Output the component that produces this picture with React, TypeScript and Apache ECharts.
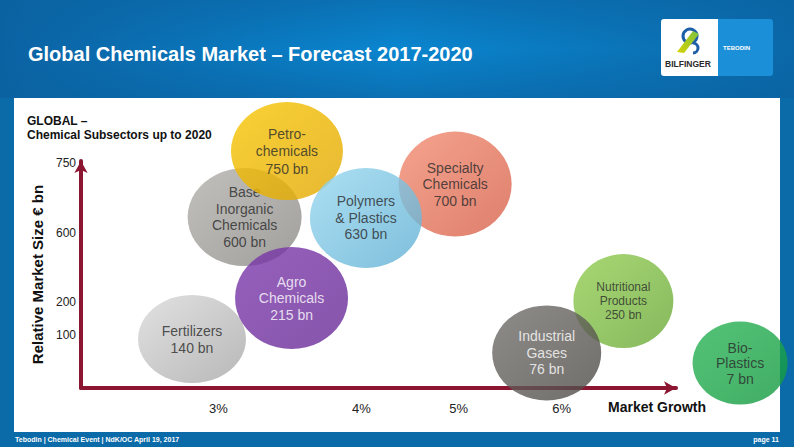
import React, { useEffect, useRef } from 'react';
import * as echarts from 'echarts';

// ---- data ----
const sectorNames = [
  'Base\nInorganic\nChemicals',
  'Petro-\nchemicals',
  'Specialty\nChemicals',
  'Polymers\n& Plastics',
  'Fertilizers',
  'Agro\nChemicals',
  'Nutritional\nProducts',
  'Industrial\nGases',
  'Bio-\nPlastics',
];
const marketSizeBn = [600, 750, 700, 630, 140, 215, 250, 76, 7];
// bubble position on the growth axis (%) and on the relative size axis
const growthPos = [3.23, 3.6, 5.07, 4.29, 2.77, 3.64, 6.54, 5.87, 7.56];
const sizePos = [570, 790, 680, 567, 163, 300, 290, 117, 83];
const xTickPos = [3, 4.25, 5.1, 6];
const xTickLabels = ['3%', '4%', '5%', '6%'];
const yTickPos = [177, 287, 517, 750];
const yTickLabels = ['100', '200', '600', '750'];

// ---- styles ----
const FONT = "'Liberation Sans', Arial, Helvetica, sans-serif";
const bubbleStyles = [
  { size: [114, 98], c1: '#b2b0ac', c2: '#8a8884', text: '#2a2a2a', fs: 14, lh: 16.5 },
  { size: [112, 98], c1: '#f7c600', c2: '#e2a600', text: '#2a2a2a', fs: 14, lh: 17.5 },
  { size: [113, 105], c1: '#f28c72', c2: '#d65f48', text: '#2a2a2a', fs: 14, lh: 16.5 },
  { size: [112, 100], c1: '#98d8f0', c2: '#5eaed2', text: '#2a2a2a', fs: 14, lh: 16.5 },
  { size: [108, 88], c1: '#dadada', c2: '#a6a6a6', text: '#2a2a2a', fs: 14, lh: 17 },
  { size: [113, 102], c1: '#7b38ab', c2: '#682a96', text: '#ffffff', fs: 14, lh: 16.5 },
  { size: [100, 94], c1: '#92cc50', c2: '#68a836', text: '#2a2a2a', fs: 12, lh: 14 },
  { size: [109, 95], c1: '#726f6b', c2: '#4c4945', text: '#ffffff', fs: 14, lh: 16.5 },
  { size: [95, 83], c1: '#28b455', c2: '#12983e', text: '#2a2a2a', fs: 14, lh: 15.5 },
];
const AXIS_RED = '#8c1631';

function lookup(pos: number[], labels: string[], v: number) {
  const i = pos.findIndex((p) => Math.abs(p - v) < 1e-6);
  return i >= 0 ? labels[i] : '';
}

export default function App() {
  const ref = useRef<HTMLDivElement>(null);

  useEffect(() => {
    document.body.style.margin = '0';
    if (!ref.current) return;
    const chart = echarts.init(ref.current, undefined, { renderer: 'svg' });

    const series = sectorNames.map((name, i) => {
      const s = bubbleStyles[i];
      return {
        type: 'scatter',
        name,
        z: 2 + i,
        clip: false,
        symbol: 'circle',
        data: [
          {
            name,
            value: [growthPos[i], sizePos[i], marketSizeBn[i]],
            symbolSize: s.size,
            itemStyle: {
              color: new echarts.graphic.LinearGradient(0, 0, 1, 1, [
                { offset: 0, color: s.c1 },
                { offset: 1, color: s.c2 },
              ]),
            },
            label: { color: s.text, fontSize: s.fs, lineHeight: s.lh },
          },
        ],
        label: {
          show: true,
          position: 'inside',
          fontFamily: FONT,
          formatter: (p: any) => `${p.name}\n${p.value[2]} bn`,
        },
        emphasis: { disabled: true },
      };
    });

    const option: any = {
      animation: false,
      backgroundColor: '#0b6aa8',
      grid: { left: 81, top: 161, width: 595, height: 227, containLabel: false },
      xAxis: {
        type: 'value',
        min: 1.8,
        max: 7,
        splitLine: { show: false },
        axisTick: { show: false },
        axisLine: {
          show: true,
          onZero: false,
          lineStyle: { color: AXIS_RED, width: 4 },
          symbol: ['none', 'arrow'],
          symbolSize: [10, 12],
        },
        axisLabel: {
          customValues: xTickPos,
          formatter: (v: number) => lookup(xTickPos, xTickLabels, v),
          margin: 14,
          fontSize: 13,
          color: '#222',
          fontFamily: FONT,
        },
        name: 'Market Growth',
        nameLocation: 'end',
        nameGap: 30,
        nameTextStyle: {
          fontFamily: FONT,
          fontWeight: 'bold',
          fontSize: 14,
          color: '#111',
          align: 'right',
          verticalAlign: 'top',
          padding: [12, 0, 0, 0],
        },
      },
      yAxis: {
        type: 'value',
        min: 0,
        max: 757,
        splitLine: { show: false },
        axisTick: { show: false },
        axisLine: {
          show: true,
          onZero: false,
          lineStyle: { color: AXIS_RED, width: 4 },
          symbol: ['none', 'arrow'],
          symbolSize: [10, 12],
        },
        axisLabel: {
          customValues: yTickPos,
          formatter: (v: number) => lookup(yTickPos, yTickLabels, v),
          margin: 5,
          fontSize: 12,
          color: '#222',
          fontFamily: FONT,
        },
        name: 'Relative Market Size € bn',
        nameLocation: 'middle',
        nameRotate: 90,
        nameGap: 36,
        nameTextStyle: {
          fontFamily: FONT,
          fontWeight: 'bold',
          fontSize: 15,
          color: '#111',
        },
      },
      graphic: [
        // header glow
        {
          type: 'rect',
          z: -20,
          shape: { x: 0, y: 0, width: 794, height: 98 },
          style: {
            fill: new echarts.graphic.LinearGradient(0, 0, 1, 0, [
              { offset: 0, color: '#0b62a2' },
              { offset: 0.5, color: '#0a86d0' },
              { offset: 1, color: '#0b68a8' },
            ]),
          },
        },
        {
          type: 'rect',
          z: -19,
          shape: { x: 0, y: 0, width: 794, height: 98 },
          style: {
            fill: new echarts.graphic.LinearGradient(0, 0, 0, 1, [
              { offset: 0, color: 'rgba(11,98,160,0.55)' },
              { offset: 0.5, color: 'rgba(11,98,160,0)' },
              { offset: 1, color: 'rgba(11,98,160,0.6)' },
            ]),
          },
        },
        // white content panel
        {
          type: 'rect',
          z: -18,
          shape: { x: 14, y: 98, width: 766, height: 334 },
          style: { fill: '#ffffff' },
        },
        // title
        {
          type: 'text',
          z: 10,
          style: {
            x: 28,
            y: 54,
            text: 'Global Chemicals Market – Forecast 2017-2020',
            fill: '#ffffff',
            font: `bold 20px ${FONT}`,
            verticalAlign: 'middle',
          },
        },
        // logo
        {
          type: 'rect',
          z: 10,
          shape: { x: 661, y: 19, width: 57, height: 57, r: [3, 0, 0, 3] },
          style: { fill: '#ffffff' },
        },
        {
          type: 'rect',
          z: 10,
          shape: { x: 718, y: 19, width: 55, height: 57, r: [0, 3, 3, 0] },
          style: { fill: '#1c8fd9' },
        },
        {
          type: 'text',
          z: 11,
          style: {
            x: 723,
            y: 48,
            text: 'TEBODIN',
            fill: '#ffffff',
            font: `bold 6px ${FONT}`,
            verticalAlign: 'middle',
          },
        },
        {
          type: 'circle',
          z: 11,
          shape: { cx: 690, cy: 36, r: 7 },
          style: { fill: 'none', stroke: '#1e5fa8', lineWidth: 3 },
        },
        {
          type: 'polygon',
          z: 12,
          shape: { points: [[677, 52], [684, 53], [699, 34], [693, 31]] },
          style: {
            fill: new echarts.graphic.LinearGradient(0, 1, 1, 0, [
              { offset: 0, color: '#d6d200' },
              { offset: 1, color: '#7cc242' },
            ]),
          },
        },
        {
          type: 'arc',
          z: 12,
          shape: { cx: 693, cy: 48, r: 5, startAngle: -Math.PI / 2, endAngle: Math.PI / 2 },
          style: { stroke: '#1e5fa8', lineWidth: 3, fill: 'none' },
        },
        {
          type: 'text',
          z: 11,
          style: {
            x: 665,
            y: 64,
            text: 'BILFINGER',
            fill: '#2a2a2a',
            font: `bold 8.5px ${FONT}`,
            verticalAlign: 'middle',
          },
        },
        // subtitle
        {
          type: 'text',
          z: 10,
          style: {
            x: 27,
            y: 114,
            text: 'GLOBAL –\nChemical Subsectors up to 2020',
            fill: '#111111',
            font: `bold 12px ${FONT}`,
            lineHeight: 14,
            verticalAlign: 'top',
          },
        },
        // footer
        {
          type: 'text',
          z: 10,
          style: {
            x: 15,
            y: 439,
            text: 'Tebodin | Chemical Event | NdK/OC April 19, 2017',
            fill: '#ffffff',
            font: `bold 7px ${FONT}`,
            verticalAlign: 'middle',
          },
        },
        {
          type: 'text',
          z: 10,
          style: {
            x: 779,
            y: 439,
            text: 'page 11',
            fill: '#ffffff',
            font: `bold 7px ${FONT}`,
            align: 'right',
            verticalAlign: 'middle',
          },
        },
      ],
      series,
    };

    chart.setOption(option);
    return () => chart.dispose();
  }, []);

  return (
    <div
      ref={ref}
      style={{ width: 794, height: 447, position: 'absolute', left: 0, top: 0 }}
    />
  );
}
